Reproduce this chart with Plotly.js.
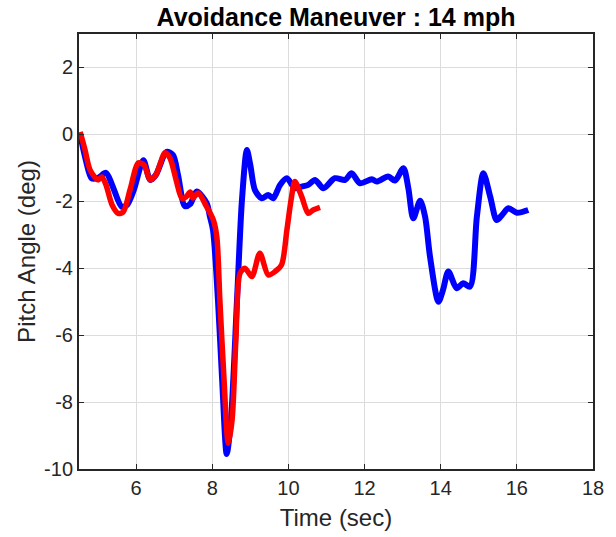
<!DOCTYPE html>
<html>
<head>
<meta charset="utf-8">
<script src="https://cdn.plot.ly/plotly-3.0.1.min.js"></script>
<style>html,body{margin:0;padding:0;background:#fff;}#chart{width:616px;height:537px;}</style>
</head>
<body>
<div id="chart"></div>
<script>
// Blue series (time in sec, pitch in deg)
const blueTime = [4.53,4.68,4.83,5.0,5.21,5.37,5.62,5.76,5.94,6.19,6.37,6.52,6.80,6.97,7.10,7.28,7.42,7.59,7.85,7.94,8.02,8.15,8.26,8.38,8.49,8.65,8.78,8.91,9.0,9.12,9.30,9.47,9.60,9.78,9.96,10.17,10.35,10.52,10.70,10.92,11.22,11.49,11.66,11.88,12.19,12.32,12.62,12.80,13.02,13.15,13.28,13.46,13.59,13.72,13.94,14.06,14.20,14.42,14.59,14.77,14.95,15.12,15.30,15.47,15.61,15.78,16.0,16.30];
const bluePitch = [0.0,-0.77,-1.31,-1.30,-1.15,-1.51,-2.16,-2.11,-1.66,-0.77,-1.36,-1.21,-0.52,-0.62,-1.21,-2.14,-2.08,-1.71,-2.05,-2.46,-2.86,-4.95,-7.34,-9.55,-8.54,-4.95,-1.96,-0.47,-0.92,-1.66,-1.91,-1.81,-1.91,-1.51,-1.31,-1.61,-1.56,-1.51,-1.36,-1.61,-1.31,-1.36,-1.16,-1.46,-1.34,-1.41,-1.26,-1.38,-1.01,-1.61,-2.51,-1.98,-2.46,-3.66,-5.0,-4.65,-4.10,-4.60,-4.45,-4.55,-2.46,-1.16,-1.86,-2.56,-2.41,-2.21,-2.34,-2.26];
// Red series
const redTime = [4.53,4.66,4.79,5.0,5.10,5.21,5.37,5.53,5.66,5.84,6.06,6.21,6.37,6.52,6.76,6.89,7.05,7.20,7.31,7.42,7.49,7.63,7.85,8.03,8.12,8.20,8.31,8.42,8.52,8.62,8.73,8.86,9.04,9.25,9.47,9.65,9.82,9.96,10.07,10.17,10.35,10.52,10.65,10.83];
const redPitch = [0.07,-0.47,-1.06,-1.36,-1.27,-1.51,-2.11,-2.36,-2.32,-1.66,-0.85,-0.92,-1.36,-1.21,-0.55,-0.71,-1.36,-1.91,-1.87,-1.72,-1.90,-1.75,-2.16,-2.56,-3.06,-4.95,-7.34,-9.23,-8.54,-6.15,-4.15,-4.0,-4.25,-3.55,-4.20,-4.10,-3.90,-2.86,-1.96,-1.41,-1.86,-2.36,-2.26,-2.18];
const xTicks = [6,8,10,12,14,16,18];
const yTicks = [-10,-8,-6,-4,-2,0,2];

const FONT = 'Liberation Sans, Arial, Helvetica, sans-serif';
const traces = [
  {x: blueTime, y: bluePitch, type:'scatter', mode:'lines', line:{color:'#0000ff', width:6, shape:'spline', smoothing:0.8}, hoverinfo:'skip'},
  {x: redTime, y: redPitch, type:'scatter', mode:'lines', line:{color:'#ff0000', width:5.5, shape:'spline', smoothing:0.8}, hoverinfo:'skip'}
];
const axisCommon = {
  showgrid:true, gridcolor:'#dcdcdc', gridwidth:1,
  showline:true, linecolor:'#262626', linewidth:2, mirror:'ticks',
  ticks:'inside', ticklen:5, tickwidth:1, tickcolor:'#262626',
  zeroline:false, tickfont:{family:FONT, size:20, color:'#262626'}
};
const layout = {
  width:616, height:537,
  margin:{l:79, r:23, t:34, b:68},
  paper_bgcolor:'#ffffff', plot_bgcolor:'#ffffff',
  showlegend:false,
  title:{text:'<b>Avoidance Maneuver : 14 mph</b>', font:{family:FONT, size:25, color:'#000000'}, xref:'paper', x:0.5, xanchor:'center', yref:'paper', y:1, yanchor:'bottom', pad:{b:8}},
  xaxis:Object.assign({}, axisCommon, {range:[4.5,18], tickvals:xTicks, ticktext:xTicks.map(String),
    title:{text:'Time (sec)', font:{family:FONT, size:24, color:'#262626'}, standoff:11}}),
  yaxis:Object.assign({}, axisCommon, {range:[-10,3], tickvals:yTicks, ticktext:yTicks.map(String),
    title:{text:'Pitch Angle (deg)', font:{family:FONT, size:24, color:'#262626'}, standoff:2}})
};
Plotly.newPlot('chart', traces, layout, {staticPlot:true, displayModeBar:false});
</script>
</body>
</html>
